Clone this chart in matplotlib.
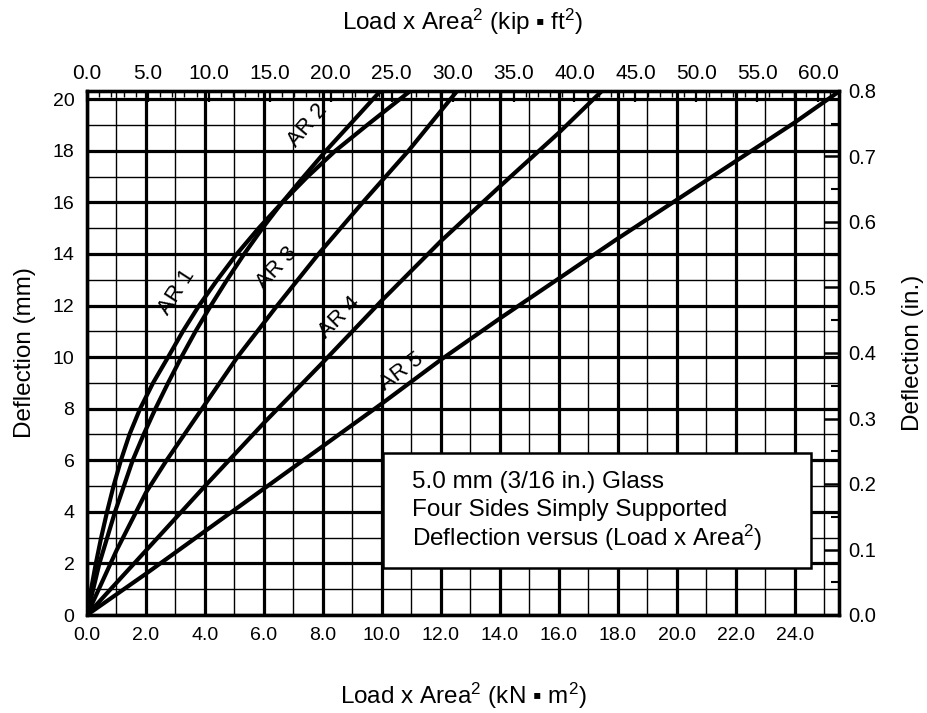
import numpy as np
import matplotlib
matplotlib.use("Agg")
import matplotlib.pyplot as plt
from matplotlib.patches import Rectangle
from matplotlib.ticker import MultipleLocator, FormatStrFormatter

plt.rcParams['font.family'] = ['Liberation Sans', 'DejaVu Sans']
plt.rcParams['mathtext.fontset'] = 'custom'
plt.rcParams['mathtext.rm'] = 'Liberation Sans'
plt.rcParams['mathtext.it'] = 'Liberation Sans:italic'
plt.rcParams['mathtext.bf'] = 'Liberation Sans:bold'

# Load x Area^2 (kN*m^2) against deflection (mm)
ar1_x = [0, 0.14, 0.3, 0.48, 0.68, 0.9, 1.15, 1.44, 1.8, 2.24, 2.75, 3.25, 3.8, 4.42, 5.08, 5.82, 6.62, 7.48, 8.42, 9.5, 10.96]
ar1_y = [0, 1, 2, 3, 4, 5, 6, 7, 8, 9, 10, 11, 12, 13, 14, 15, 16, 17, 18, 19, 20.32]

ar2_x = [0, 0.42, 0.95, 1.55, 1.92, 2.32, 2.75, 3.2, 3.68, 4.2, 4.75, 5.33, 5.95, 6.62, 7.35, 8.1, 8.9, 9.95]
ar2_y = [0, 2, 4, 6, 7, 8, 9, 10, 11, 12, 13, 14, 15, 16, 17, 18, 19, 20.32]

ar3_x = [0, 1.0, 2.0, 2.7, 3.9, 5.1, 6.45, 7.85, 9.35, 10.9, 12.55]
ar3_y = [0, 2.5, 4.75, 6, 8, 10, 12, 14, 16, 18, 20.32]

ar4_x = [0, 2, 4, 6, 8, 10, 12, 14, 16, 17.46]
ar4_y = [0, 2.5, 5.0, 7.45, 9.8, 12.2, 14.5, 16.62, 18.7, 20.32]

ar5_x = [0, 2, 4, 6, 8, 10, 12, 14, 16, 18, 20, 22, 24, 25.5]
ar5_y = [0, 1.6, 3.25, 4.9, 6.55, 8.2, 9.9, 11.5, 13.05, 14.6, 16.1, 17.6, 19.1, 20.3]

curve_names = ["AR 1", "AR 2", "AR 3", "AR 4", "AR 5"]
curves = [(ar1_x, ar1_y), (ar2_x, ar2_y), (ar3_x, ar3_y), (ar4_x, ar4_y), (ar5_x, ar5_y)]

# label placement (data coords) and angle for each curve
label_x = [3.05, 7.5, 6.45, 8.55, 10.65]
label_y = [12.5, 19.0, 13.45, 11.55, 9.45]
label_rot = [57, 50, 47, 45, 37]

KIP_FT2_PER_KN_M2 = 2.4198
MM_PER_IN = 25.4
x_max = 25.5
y_max = 20.32

fig = plt.figure(figsize=(9.27, 7.13), dpi=100)
ax = fig.add_axes([87/927, 1 - 615/713, (839 - 87)/927, (615 - 91)/713])
ax.set_xlim(0, x_max)
ax.set_ylim(0, y_max)

ax.xaxis.set_major_locator(MultipleLocator(2))
ax.xaxis.set_minor_locator(MultipleLocator(1))
ax.yaxis.set_major_locator(MultipleLocator(2))
ax.yaxis.set_minor_locator(MultipleLocator(1))
ax.xaxis.set_major_formatter(FormatStrFormatter('%.1f'))
ax.grid(which='major', color='black', lw=2.3, zorder=1)
ax.grid(which='minor', color='black', lw=1.0, zorder=1)
ax.set_axisbelow(True)
ax.tick_params(which='both', length=0, labelsize=14, pad=9)

for (x, y) in curves:
    ax.plot(x, y, color='black', lw=3.0, zorder=3)

for name, lx, ly, rot in zip(curve_names, label_x, label_y, label_rot):
    ax.text(lx, ly, name, rotation=rot, ha='center', va='center',
            rotation_mode='anchor', fontsize=16, zorder=5)

# note box
ax.add_patch(Rectangle((10.05, 1.81), 14.49, 4.46, facecolor='white',
                       edgecolor='black', lw=1.8, zorder=4))
box_lines = ["5.0 mm (3/16 in.) Glass", "Four Sides Simply Supported",
             "Deflection versus (Load x Area$^{\\mathrm{2}}$)"]
for txt, by in zip(box_lines, [4.92, 3.85, 2.69]):
    ax.text(11.03, by, txt, fontsize=17.5, va='baseline', ha='left', zorder=5)

ax.set_xlabel("Load x Area$^{\\mathrm{2}}$ (kN \u25aa m$^{\\mathrm{2}}$)", fontsize=17.5, labelpad=26)
ax.set_ylabel("Deflection (mm)", fontsize=17.5, labelpad=12)

# top axis: kip*ft^2
axt = ax.twiny()
axt.set_xlim(0, x_max * KIP_FT2_PER_KN_M2)
axt.xaxis.set_major_locator(MultipleLocator(5))
axt.xaxis.set_minor_locator(MultipleLocator(1))
axt.xaxis.set_major_formatter(FormatStrFormatter('%.1f'))
axt.tick_params(which='major', direction='in', length=8, width=1.6, labelsize=15, pad=6)
axt.tick_params(which='minor', direction='in', length=4, width=1.0)
axt.set_xlabel("Load x Area$^{\\mathrm{2}}$ (kip \u25aa ft$^{\\mathrm{2}}$)", fontsize=17.5, labelpad=24)

# right axis: inches
axr = ax.twinx()
axr.set_ylim(0, y_max / MM_PER_IN)
axr.yaxis.set_major_locator(MultipleLocator(0.1))
axr.yaxis.set_minor_locator(MultipleLocator(0.05))
axr.yaxis.set_major_formatter(FormatStrFormatter('%.1f'))
axr.tick_params(which='major', direction='in', length=11, width=1.8, labelsize=14.5, pad=7)
axr.tick_params(which='minor', direction='in', length=6, width=1.5)
axr.set_ylabel("Deflection (in.)", fontsize=17.5, labelpad=18)

for a in (ax, axt, axr):
    for s in a.spines.values():
        s.set_linewidth(2.3)

fig.savefig("out.png", dpi=100)
